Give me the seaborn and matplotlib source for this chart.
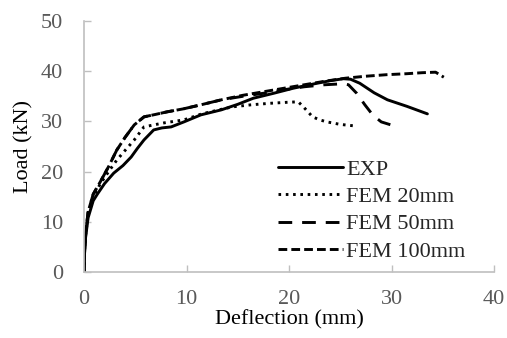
import pandas as pd
import matplotlib
matplotlib.use('Agg')
import matplotlib.pyplot as plt
import seaborn as sns

# valores
exp_x = [0, 0.05, 0.15, 0.4, 0.9, 1.3, 2.0, 2.9, 3.8, 4.6, 5.2, 5.85, 6.8, 7.6, 8.5, 9.75,
         11.4, 13.4, 15.0, 16.5, 18.5, 20.4, 22.5, 24.0, 25.3, 26.0, 26.9, 28.3, 29.6, 31.5, 33.5]
exp_y = [0, 3.6, 6.8, 10.8, 14.2, 15.5, 17.6, 19.7, 21.2, 22.9, 24.6, 26.3, 28.3, 28.7, 28.9, 29.9,
         31.3, 32.3, 33.4, 34.6, 35.6, 36.6, 37.5, 38.1, 38.5, 38.4, 37.6, 35.7, 34.3, 33.0, 31.5]

fem20_x = [0, 0.05, 0.15, 0.4, 0.9, 1.6, 2.4, 3.2, 4.0, 4.9, 5.85, 6.8, 7.8, 9.75, 11.5, 13.4,
           14.5, 16.3, 18.1, 19.8, 20.9, 21.4, 22.3, 23.0, 23.7, 25.0, 26.4]
fem20_y = [0, 3.8, 7.2, 11.5, 15.0, 17.6, 20.0, 22.3, 24.2, 26.3, 28.9, 29.3, 29.7, 30.3, 31.5, 32.4,
           32.9, 33.3, 33.6, 33.8, 33.9, 32.9, 30.9, 30.3, 29.9, 29.4, 29.1]

fem50_x = [0, 0.05, 0.15, 0.4, 0.9, 1.6, 2.4, 3.2, 4.0, 4.9, 5.85, 7.0, 8.1, 9.7, 11.4, 13.4,
           15.5, 17.5, 19.5, 21.5, 23.5, 25.3, 25.8, 26.6, 27.4, 28.2, 29.0, 30.1]
fem50_y = [0, 3.8, 7.5, 12.0, 15.5, 18.0, 21.0, 24.3, 26.8, 29.3, 30.9, 31.4, 31.9, 32.5, 33.3, 34.3,
           35.0, 35.6, 36.3, 36.9, 37.3, 37.5, 37.3, 35.6, 33.3, 31.2, 29.9, 29.2]

fem100_x = [0, 0.05, 0.15, 0.4, 0.9, 1.6, 2.4, 3.2, 4.0, 4.9, 5.85, 7.0, 8.1, 9.7, 11.4, 13.4,
            15.5, 17.5, 19.5, 21.5, 23.5, 25.5, 27.5, 29.5, 31.5, 33.0, 34.3, 35.1]
fem100_y = [0, 3.8, 7.5, 12.0, 15.5, 18.0, 21.0, 24.3, 26.8, 29.3, 30.9, 31.4, 31.9, 32.5, 33.3, 34.3,
            35.2, 35.9, 36.6, 37.3, 38.0, 38.6, 39.0, 39.3, 39.5, 39.7, 39.8, 38.8]

x_ticks = [0, 10, 20, 30, 40]
y_ticks = [0, 10, 20, 30, 40, 50]

series = [
    ('EXP', exp_x, exp_y, '-'),
    ('FEM 20mm', fem20_x, fem20_y, (0, (0.9, 1.6))),
    ('FEM 50mm', fem50_x, fem50_y, (0, (4.7, 3.4))),
    ('FEM 100mm', fem100_x, fem100_y, (0, (3.0, 1.4))),
]

sns.set_theme(style="white")
plt.rcParams['font.family'] = ['Liberation Serif', 'DejaVu Serif']

fig = plt.figure(figsize=(5.07, 3.38), dpi=100)
ax = fig.add_axes([0.1657, 0.1953, 0.8087, 0.7426])

for nombre, xs, ys, estilo in series:
    df = pd.DataFrame({'Deflection': xs, 'Load': ys})
    sns.lineplot(x='Deflection', y='Load', data=df, ax=ax, color='black', lw=2.1,
                 linestyle=estilo, label=nombre, sort=False, estimator=None)

ax.set_xlim(0, 40)
ax.set_ylim(0, 50)
ax.set_xticks(x_ticks, labels=[str(t) for t in x_ticks])
ax.set_yticks(y_ticks, labels=[str(t) for t in y_ticks])
ax.set_xlabel('Deflection (mm)', fontsize=16, color='black', labelpad=1)
ax.set_ylabel('Load (kN)', fontsize=16, color='black', labelpad=5)
ax.tick_params(axis='both', labelsize=16, labelcolor='#595959', direction='in',
               length=5, width=1, color='#bfbfbf', left=True, bottom=True)
ax.tick_params(axis='y', pad=15)
ax.tick_params(axis='x', pad=13)

for lado in ['top', 'right']:
    ax.spines[lado].set_visible(False)
for lado in ['left', 'bottom']:
    ax.spines[lado].set_color('#bfbfbf')
    ax.spines[lado].set_linewidth(1.2)

ax.legend(loc='center left', bbox_to_anchor=(0.474, 0.245), frameon=False, fontsize=16,
          handlelength=2.9, handletextpad=0.15, labelspacing=0.3, borderpad=0, borderaxespad=0)

fig.savefig('out.png', dpi=100)
